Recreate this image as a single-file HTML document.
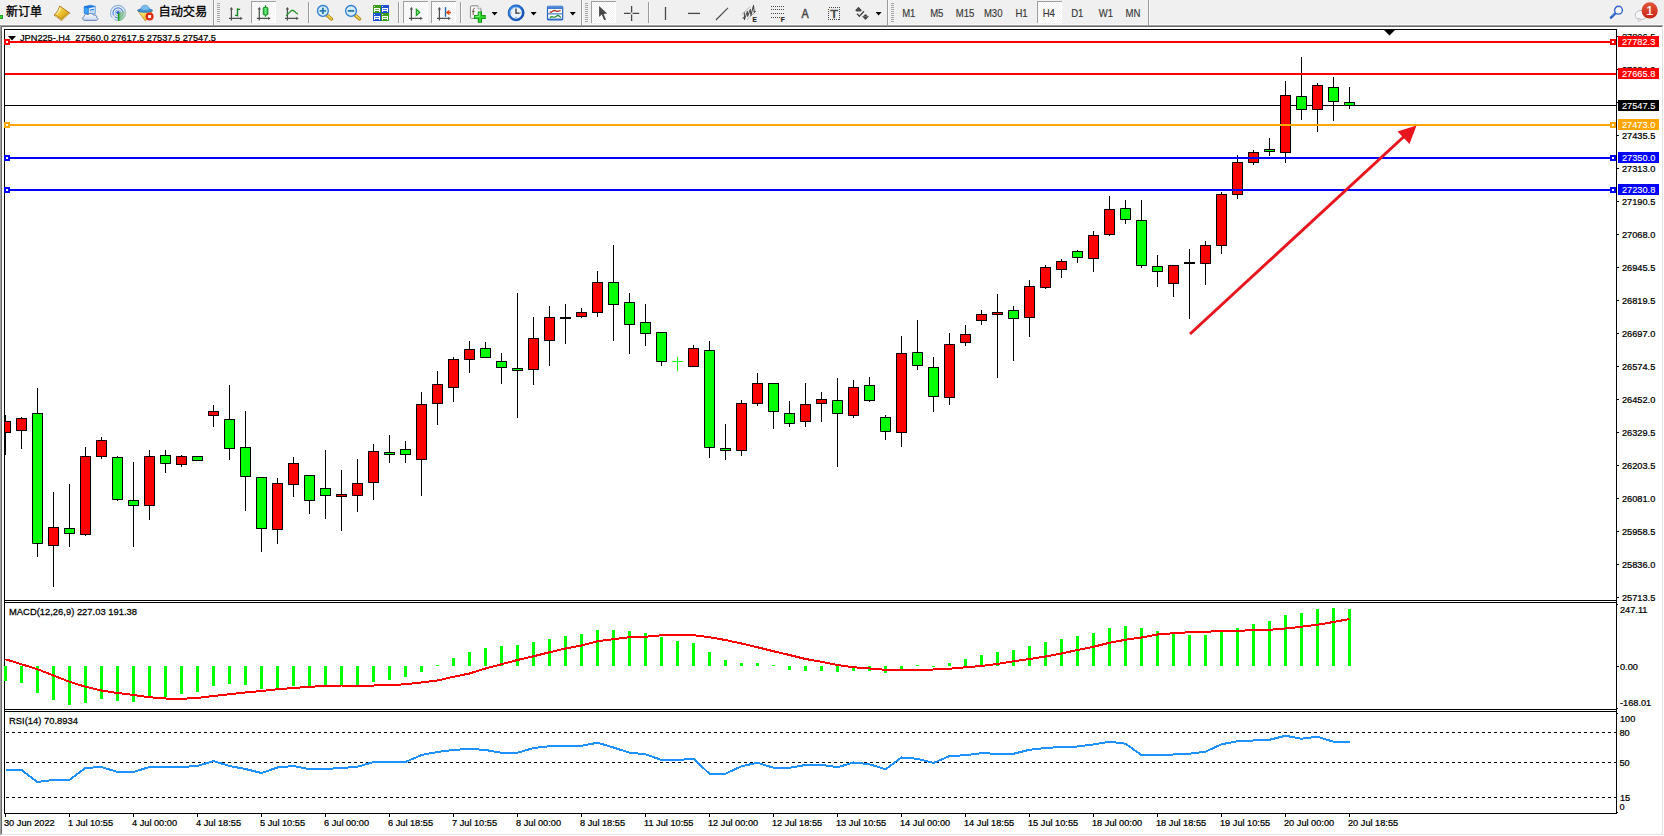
<!DOCTYPE html><html><head><meta charset="utf-8"><title>JPN225 H4</title><style>html,body{margin:0;padding:0;background:#fff}body{width:1664px;height:836px;overflow:hidden}svg{display:block;font-family:'Liberation Sans', 'Noto Sans CJK SC', sans-serif}</style></head><body>
<svg width="1664" height="836" viewBox="0 0 1664 836">
<rect x="0" y="0" width="1664" height="836" fill="#f0f0f0"/>
<g shape-rendering="crispEdges">
<rect x="2" y="27" width="1660" height="807" fill="#fff"/>
<rect x="4" y="29" width="1613" height="1" fill="#000"/>
<rect x="4" y="29" width="1" height="785" fill="#000"/>
<rect x="1616" y="29" width="1" height="785" fill="#000"/>
<rect x="4" y="600" width="1613" height="1" fill="#000"/>
<rect x="4" y="602" width="1613" height="1" fill="#000"/>
<rect x="4" y="709" width="1613" height="1" fill="#000"/>
<rect x="4" y="711" width="1613" height="1" fill="#000"/>
<rect x="4" y="813" width="1613" height="1" fill="#000"/>
<rect x="5" y="105" width="1611" height="1" fill="#000"/>
<rect x="5" y="415" width="1" height="40" fill="#000"/>
<rect x="5" y="421" width="6" height="12" fill="#000"/>
<rect x="5" y="422" width="5" height="10" fill="#ff0000"/>
<rect x="21" y="417" width="1" height="32" fill="#000"/>
<rect x="16" y="418" width="11" height="13" fill="#000"/>
<rect x="17" y="419" width="9" height="11" fill="#ff0000"/>
<rect x="37" y="388" width="1" height="169" fill="#000"/>
<rect x="32" y="413" width="11" height="131" fill="#000"/>
<rect x="33" y="414" width="9" height="129" fill="#00ff00"/>
<rect x="53" y="492" width="1" height="95" fill="#000"/>
<rect x="48" y="527" width="11" height="19" fill="#000"/>
<rect x="49" y="528" width="9" height="17" fill="#ff0000"/>
<rect x="69" y="484" width="1" height="63" fill="#000"/>
<rect x="64" y="528" width="11" height="6" fill="#000"/>
<rect x="65" y="529" width="9" height="4" fill="#00ff00"/>
<rect x="85" y="447" width="1" height="89" fill="#000"/>
<rect x="80" y="456" width="11" height="79" fill="#000"/>
<rect x="81" y="457" width="9" height="77" fill="#ff0000"/>
<rect x="101" y="437" width="1" height="22" fill="#000"/>
<rect x="96" y="440" width="11" height="17" fill="#000"/>
<rect x="97" y="441" width="9" height="15" fill="#ff0000"/>
<rect x="117" y="456" width="1" height="45" fill="#000"/>
<rect x="112" y="457" width="11" height="43" fill="#000"/>
<rect x="113" y="458" width="9" height="41" fill="#00ff00"/>
<rect x="133" y="462" width="1" height="85" fill="#000"/>
<rect x="128" y="500" width="11" height="6" fill="#000"/>
<rect x="129" y="501" width="9" height="4" fill="#00ff00"/>
<rect x="149" y="450" width="1" height="70" fill="#000"/>
<rect x="144" y="456" width="11" height="50" fill="#000"/>
<rect x="145" y="457" width="9" height="48" fill="#ff0000"/>
<rect x="165" y="450" width="1" height="23" fill="#000"/>
<rect x="160" y="455" width="11" height="9" fill="#000"/>
<rect x="161" y="456" width="9" height="7" fill="#00ff00"/>
<rect x="181" y="455" width="1" height="12" fill="#000"/>
<rect x="176" y="456" width="11" height="9" fill="#000"/>
<rect x="177" y="457" width="9" height="7" fill="#ff0000"/>
<rect x="197" y="456" width="1" height="5" fill="#000"/>
<rect x="192" y="456" width="11" height="5" fill="#000"/>
<rect x="193" y="457" width="9" height="3" fill="#00ff00"/>
<rect x="213" y="405" width="1" height="22" fill="#000"/>
<rect x="208" y="411" width="11" height="5" fill="#000"/>
<rect x="209" y="412" width="9" height="3" fill="#ff0000"/>
<rect x="229" y="385" width="1" height="75" fill="#000"/>
<rect x="224" y="419" width="11" height="30" fill="#000"/>
<rect x="225" y="420" width="9" height="28" fill="#00ff00"/>
<rect x="245" y="411" width="1" height="100" fill="#000"/>
<rect x="240" y="447" width="11" height="30" fill="#000"/>
<rect x="241" y="448" width="9" height="28" fill="#00ff00"/>
<rect x="261" y="477" width="1" height="75" fill="#000"/>
<rect x="256" y="477" width="11" height="52" fill="#000"/>
<rect x="257" y="478" width="9" height="50" fill="#00ff00"/>
<rect x="277" y="478" width="1" height="66" fill="#000"/>
<rect x="272" y="483" width="11" height="47" fill="#000"/>
<rect x="273" y="484" width="9" height="45" fill="#ff0000"/>
<rect x="293" y="457" width="1" height="40" fill="#000"/>
<rect x="288" y="463" width="11" height="22" fill="#000"/>
<rect x="289" y="464" width="9" height="20" fill="#ff0000"/>
<rect x="309" y="475" width="1" height="39" fill="#000"/>
<rect x="304" y="475" width="11" height="26" fill="#000"/>
<rect x="305" y="476" width="9" height="24" fill="#00ff00"/>
<rect x="325" y="450" width="1" height="69" fill="#000"/>
<rect x="320" y="488" width="11" height="8" fill="#000"/>
<rect x="321" y="489" width="9" height="6" fill="#00ff00"/>
<rect x="341" y="470" width="1" height="61" fill="#000"/>
<rect x="336" y="494" width="11" height="3" fill="#000"/>
<rect x="337" y="495" width="9" height="1" fill="#ff0000"/>
<rect x="357" y="459" width="1" height="53" fill="#000"/>
<rect x="352" y="483" width="11" height="13" fill="#000"/>
<rect x="353" y="484" width="9" height="11" fill="#ff0000"/>
<rect x="373" y="444" width="1" height="56" fill="#000"/>
<rect x="368" y="451" width="11" height="32" fill="#000"/>
<rect x="369" y="452" width="9" height="30" fill="#ff0000"/>
<rect x="389" y="435" width="1" height="28" fill="#000"/>
<rect x="384" y="452" width="11" height="3" fill="#000"/>
<rect x="385" y="453" width="9" height="1" fill="#00ff00"/>
<rect x="405" y="441" width="1" height="22" fill="#000"/>
<rect x="400" y="449" width="11" height="6" fill="#000"/>
<rect x="401" y="450" width="9" height="4" fill="#00ff00"/>
<rect x="421" y="392" width="1" height="104" fill="#000"/>
<rect x="416" y="404" width="11" height="56" fill="#000"/>
<rect x="417" y="405" width="9" height="54" fill="#ff0000"/>
<rect x="437" y="371" width="1" height="54" fill="#000"/>
<rect x="432" y="384" width="11" height="20" fill="#000"/>
<rect x="433" y="385" width="9" height="18" fill="#ff0000"/>
<rect x="453" y="357" width="1" height="45" fill="#000"/>
<rect x="448" y="359" width="11" height="29" fill="#000"/>
<rect x="449" y="360" width="9" height="27" fill="#ff0000"/>
<rect x="469" y="341" width="1" height="32" fill="#000"/>
<rect x="464" y="349" width="11" height="11" fill="#000"/>
<rect x="465" y="350" width="9" height="9" fill="#ff0000"/>
<rect x="485" y="342" width="1" height="16" fill="#000"/>
<rect x="480" y="348" width="11" height="10" fill="#000"/>
<rect x="481" y="349" width="9" height="8" fill="#00ff00"/>
<rect x="501" y="353" width="1" height="31" fill="#000"/>
<rect x="496" y="361" width="11" height="7" fill="#000"/>
<rect x="497" y="362" width="9" height="5" fill="#00ff00"/>
<rect x="517" y="293" width="1" height="125" fill="#000"/>
<rect x="512" y="368" width="11" height="3" fill="#000"/>
<rect x="513" y="369" width="9" height="1" fill="#00ff00"/>
<rect x="533" y="317" width="1" height="68" fill="#000"/>
<rect x="528" y="338" width="11" height="32" fill="#000"/>
<rect x="529" y="339" width="9" height="30" fill="#ff0000"/>
<rect x="549" y="306" width="1" height="60" fill="#000"/>
<rect x="544" y="317" width="11" height="24" fill="#000"/>
<rect x="545" y="318" width="9" height="22" fill="#ff0000"/>
<rect x="565" y="304" width="1" height="40" fill="#000"/>
<rect x="560" y="317" width="11" height="2" fill="#000"/>
<rect x="581" y="308" width="1" height="10" fill="#000"/>
<rect x="576" y="312" width="11" height="5" fill="#000"/>
<rect x="577" y="313" width="9" height="3" fill="#ff0000"/>
<rect x="597" y="271" width="1" height="46" fill="#000"/>
<rect x="592" y="282" width="11" height="31" fill="#000"/>
<rect x="593" y="283" width="9" height="29" fill="#ff0000"/>
<rect x="613" y="245" width="1" height="96" fill="#000"/>
<rect x="608" y="282" width="11" height="23" fill="#000"/>
<rect x="609" y="283" width="9" height="21" fill="#00ff00"/>
<rect x="629" y="293" width="1" height="61" fill="#000"/>
<rect x="624" y="302" width="11" height="23" fill="#000"/>
<rect x="625" y="303" width="9" height="21" fill="#00ff00"/>
<rect x="645" y="304" width="1" height="42" fill="#000"/>
<rect x="640" y="322" width="11" height="12" fill="#000"/>
<rect x="641" y="323" width="9" height="10" fill="#00ff00"/>
<rect x="661" y="332" width="1" height="34" fill="#000"/>
<rect x="656" y="332" width="11" height="30" fill="#000"/>
<rect x="657" y="333" width="9" height="28" fill="#00ff00"/>
<rect x="677" y="357" width="1" height="14" fill="#00ff00"/>
<rect x="672" y="361" width="11" height="1" fill="#00ff00"/>
<rect x="693" y="345" width="1" height="22" fill="#000"/>
<rect x="688" y="348" width="11" height="19" fill="#000"/>
<rect x="689" y="349" width="9" height="17" fill="#ff0000"/>
<rect x="709" y="341" width="1" height="117" fill="#000"/>
<rect x="704" y="350" width="11" height="98" fill="#000"/>
<rect x="705" y="351" width="9" height="96" fill="#00ff00"/>
<rect x="725" y="424" width="1" height="36" fill="#000"/>
<rect x="720" y="448" width="11" height="3" fill="#000"/>
<rect x="721" y="449" width="9" height="1" fill="#00ff00"/>
<rect x="741" y="400" width="1" height="56" fill="#000"/>
<rect x="736" y="403" width="11" height="48" fill="#000"/>
<rect x="737" y="404" width="9" height="46" fill="#ff0000"/>
<rect x="757" y="373" width="1" height="33" fill="#000"/>
<rect x="752" y="383" width="11" height="21" fill="#000"/>
<rect x="753" y="384" width="9" height="19" fill="#ff0000"/>
<rect x="773" y="383" width="1" height="46" fill="#000"/>
<rect x="768" y="383" width="11" height="29" fill="#000"/>
<rect x="769" y="384" width="9" height="27" fill="#00ff00"/>
<rect x="789" y="401" width="1" height="26" fill="#000"/>
<rect x="784" y="413" width="11" height="11" fill="#000"/>
<rect x="785" y="414" width="9" height="9" fill="#00ff00"/>
<rect x="805" y="383" width="1" height="44" fill="#000"/>
<rect x="800" y="404" width="11" height="18" fill="#000"/>
<rect x="801" y="405" width="9" height="16" fill="#ff0000"/>
<rect x="821" y="392" width="1" height="30" fill="#000"/>
<rect x="816" y="399" width="11" height="5" fill="#000"/>
<rect x="817" y="400" width="9" height="3" fill="#ff0000"/>
<rect x="837" y="378" width="1" height="89" fill="#000"/>
<rect x="832" y="400" width="11" height="14" fill="#000"/>
<rect x="833" y="401" width="9" height="12" fill="#00ff00"/>
<rect x="853" y="380" width="1" height="38" fill="#000"/>
<rect x="848" y="387" width="11" height="29" fill="#000"/>
<rect x="849" y="388" width="9" height="27" fill="#ff0000"/>
<rect x="869" y="377" width="1" height="25" fill="#000"/>
<rect x="864" y="385" width="11" height="16" fill="#000"/>
<rect x="865" y="386" width="9" height="14" fill="#00ff00"/>
<rect x="885" y="415" width="1" height="25" fill="#000"/>
<rect x="880" y="417" width="11" height="15" fill="#000"/>
<rect x="881" y="418" width="9" height="13" fill="#00ff00"/>
<rect x="901" y="336" width="1" height="111" fill="#000"/>
<rect x="896" y="353" width="11" height="80" fill="#000"/>
<rect x="897" y="354" width="9" height="78" fill="#ff0000"/>
<rect x="917" y="320" width="1" height="50" fill="#000"/>
<rect x="912" y="352" width="11" height="14" fill="#000"/>
<rect x="913" y="353" width="9" height="12" fill="#00ff00"/>
<rect x="933" y="357" width="1" height="55" fill="#000"/>
<rect x="928" y="367" width="11" height="30" fill="#000"/>
<rect x="929" y="368" width="9" height="28" fill="#00ff00"/>
<rect x="949" y="333" width="1" height="72" fill="#000"/>
<rect x="944" y="344" width="11" height="54" fill="#000"/>
<rect x="945" y="345" width="9" height="52" fill="#ff0000"/>
<rect x="965" y="325" width="1" height="21" fill="#000"/>
<rect x="960" y="334" width="11" height="9" fill="#000"/>
<rect x="961" y="335" width="9" height="7" fill="#ff0000"/>
<rect x="981" y="310" width="1" height="15" fill="#000"/>
<rect x="976" y="314" width="11" height="7" fill="#000"/>
<rect x="977" y="315" width="9" height="5" fill="#ff0000"/>
<rect x="997" y="294" width="1" height="84" fill="#000"/>
<rect x="992" y="312" width="11" height="3" fill="#000"/>
<rect x="993" y="313" width="9" height="1" fill="#ff0000"/>
<rect x="1013" y="306" width="1" height="55" fill="#000"/>
<rect x="1008" y="310" width="11" height="9" fill="#000"/>
<rect x="1009" y="311" width="9" height="7" fill="#00ff00"/>
<rect x="1029" y="280" width="1" height="57" fill="#000"/>
<rect x="1024" y="286" width="11" height="32" fill="#000"/>
<rect x="1025" y="287" width="9" height="30" fill="#ff0000"/>
<rect x="1045" y="265" width="1" height="24" fill="#000"/>
<rect x="1040" y="267" width="11" height="21" fill="#000"/>
<rect x="1041" y="268" width="9" height="19" fill="#ff0000"/>
<rect x="1061" y="259" width="1" height="19" fill="#000"/>
<rect x="1056" y="261" width="11" height="9" fill="#000"/>
<rect x="1057" y="262" width="9" height="7" fill="#ff0000"/>
<rect x="1077" y="250" width="1" height="13" fill="#000"/>
<rect x="1072" y="251" width="11" height="7" fill="#000"/>
<rect x="1073" y="252" width="9" height="5" fill="#00ff00"/>
<rect x="1093" y="231" width="1" height="41" fill="#000"/>
<rect x="1088" y="235" width="11" height="24" fill="#000"/>
<rect x="1089" y="236" width="9" height="22" fill="#ff0000"/>
<rect x="1109" y="196" width="1" height="40" fill="#000"/>
<rect x="1104" y="209" width="11" height="26" fill="#000"/>
<rect x="1105" y="210" width="9" height="24" fill="#ff0000"/>
<rect x="1125" y="200" width="1" height="24" fill="#000"/>
<rect x="1120" y="208" width="11" height="12" fill="#000"/>
<rect x="1121" y="209" width="9" height="10" fill="#00ff00"/>
<rect x="1141" y="200" width="1" height="68" fill="#000"/>
<rect x="1136" y="220" width="11" height="46" fill="#000"/>
<rect x="1137" y="221" width="9" height="44" fill="#00ff00"/>
<rect x="1157" y="255" width="1" height="32" fill="#000"/>
<rect x="1152" y="266" width="11" height="6" fill="#000"/>
<rect x="1153" y="267" width="9" height="4" fill="#00ff00"/>
<rect x="1173" y="265" width="1" height="32" fill="#000"/>
<rect x="1168" y="265" width="11" height="19" fill="#000"/>
<rect x="1169" y="266" width="9" height="17" fill="#ff0000"/>
<rect x="1189" y="249" width="1" height="70" fill="#000"/>
<rect x="1184" y="262" width="11" height="2" fill="#000"/>
<rect x="1205" y="241" width="1" height="44" fill="#000"/>
<rect x="1200" y="245" width="11" height="19" fill="#000"/>
<rect x="1201" y="246" width="9" height="17" fill="#ff0000"/>
<rect x="1221" y="192" width="1" height="62" fill="#000"/>
<rect x="1216" y="194" width="11" height="52" fill="#000"/>
<rect x="1217" y="195" width="9" height="50" fill="#ff0000"/>
<rect x="1237" y="155" width="1" height="44" fill="#000"/>
<rect x="1232" y="162" width="11" height="33" fill="#000"/>
<rect x="1233" y="163" width="9" height="31" fill="#ff0000"/>
<rect x="1253" y="150" width="1" height="15" fill="#000"/>
<rect x="1248" y="152" width="11" height="11" fill="#000"/>
<rect x="1249" y="153" width="9" height="9" fill="#ff0000"/>
<rect x="1269" y="138" width="1" height="18" fill="#000"/>
<rect x="1264" y="149" width="11" height="3" fill="#000"/>
<rect x="1265" y="150" width="9" height="1" fill="#00ff00"/>
<rect x="1285" y="81" width="1" height="82" fill="#000"/>
<rect x="1280" y="95" width="11" height="58" fill="#000"/>
<rect x="1281" y="96" width="9" height="56" fill="#ff0000"/>
<rect x="1301" y="57" width="1" height="63" fill="#000"/>
<rect x="1296" y="96" width="11" height="14" fill="#000"/>
<rect x="1297" y="97" width="9" height="12" fill="#00ff00"/>
<rect x="1317" y="83" width="1" height="49" fill="#000"/>
<rect x="1312" y="85" width="11" height="25" fill="#000"/>
<rect x="1313" y="86" width="9" height="23" fill="#ff0000"/>
<rect x="1333" y="77" width="1" height="44" fill="#000"/>
<rect x="1328" y="87" width="11" height="15" fill="#000"/>
<rect x="1329" y="88" width="9" height="13" fill="#00ff00"/>
<rect x="1349" y="87" width="1" height="22" fill="#000"/>
<rect x="1344" y="102" width="11" height="4" fill="#000"/>
<rect x="1345" y="103" width="9" height="2" fill="#00ff00"/>
</g>
<text transform="translate(20,41) scale(0.94,1)" font-size="9.8" fill="#000" stroke="#000" stroke-width="0.25" text-anchor="start">JPN225-,H4&#160;&#160;27560.0 27617.5 27537.5 27547.5</text>
<g shape-rendering="crispEdges">
<rect x="5" y="41" width="1611" height="2" fill="#ff0000"/>
<rect x="4" y="39" width="6" height="6" fill="#ff0000"/>
<rect x="6" y="41" width="2" height="2" fill="#fff"/>
<rect x="1610" y="39" width="6" height="6" fill="#ff0000"/>
<rect x="1612" y="41" width="2" height="2" fill="#fff"/>
<rect x="5" y="73" width="1611" height="2" fill="#ff0000"/>
<rect x="5" y="124" width="1611" height="2" fill="#ffa500"/>
<rect x="4" y="122" width="6" height="6" fill="#ffa500"/>
<rect x="6" y="124" width="2" height="2" fill="#fff"/>
<rect x="1610" y="122" width="6" height="6" fill="#ffa500"/>
<rect x="1612" y="124" width="2" height="2" fill="#fff"/>
<rect x="5" y="157" width="1611" height="2" fill="#0000ff"/>
<rect x="4" y="155" width="6" height="6" fill="#0000ff"/>
<rect x="6" y="157" width="2" height="2" fill="#fff"/>
<rect x="1610" y="155" width="6" height="6" fill="#0000ff"/>
<rect x="1612" y="157" width="2" height="2" fill="#fff"/>
<rect x="5" y="189" width="1611" height="2" fill="#0000ff"/>
<rect x="4" y="187" width="6" height="6" fill="#0000ff"/>
<rect x="6" y="189" width="2" height="2" fill="#fff"/>
<rect x="1610" y="187" width="6" height="6" fill="#0000ff"/>
<rect x="1612" y="189" width="2" height="2" fill="#fff"/>
<polygon points="1384,30 1395,30 1389.5,35.5" fill="#000" shape-rendering="auto"/>
<rect x="4" y="666" width="3" height="15" fill="#00ff00"/>
<rect x="20" y="666" width="3" height="17" fill="#00ff00"/>
<rect x="36" y="666" width="3" height="27" fill="#00ff00"/>
<rect x="52" y="666" width="3" height="34" fill="#00ff00"/>
<rect x="68" y="666" width="3" height="39" fill="#00ff00"/>
<rect x="84" y="666" width="3" height="37" fill="#00ff00"/>
<rect x="100" y="666" width="3" height="33" fill="#00ff00"/>
<rect x="116" y="666" width="3" height="35" fill="#00ff00"/>
<rect x="132" y="666" width="3" height="36" fill="#00ff00"/>
<rect x="148" y="666" width="3" height="32" fill="#00ff00"/>
<rect x="164" y="666" width="3" height="31" fill="#00ff00"/>
<rect x="180" y="666" width="3" height="28" fill="#00ff00"/>
<rect x="196" y="666" width="3" height="26" fill="#00ff00"/>
<rect x="212" y="666" width="3" height="20" fill="#00ff00"/>
<rect x="228" y="666" width="3" height="18" fill="#00ff00"/>
<rect x="244" y="666" width="3" height="19" fill="#00ff00"/>
<rect x="260" y="666" width="3" height="23" fill="#00ff00"/>
<rect x="276" y="666" width="3" height="23" fill="#00ff00"/>
<rect x="292" y="666" width="3" height="20" fill="#00ff00"/>
<rect x="308" y="666" width="3" height="21" fill="#00ff00"/>
<rect x="324" y="666" width="3" height="21" fill="#00ff00"/>
<rect x="340" y="666" width="3" height="20" fill="#00ff00"/>
<rect x="356" y="666" width="3" height="19" fill="#00ff00"/>
<rect x="372" y="666" width="3" height="16" fill="#00ff00"/>
<rect x="388" y="666" width="3" height="14" fill="#00ff00"/>
<rect x="404" y="666" width="3" height="11" fill="#00ff00"/>
<rect x="420" y="666" width="3" height="6" fill="#00ff00"/>
<rect x="436" y="665" width="3" height="1" fill="#00ff00"/>
<rect x="452" y="658" width="3" height="8" fill="#00ff00"/>
<rect x="468" y="652" width="3" height="14" fill="#00ff00"/>
<rect x="484" y="648" width="3" height="18" fill="#00ff00"/>
<rect x="500" y="646" width="3" height="20" fill="#00ff00"/>
<rect x="516" y="645" width="3" height="21" fill="#00ff00"/>
<rect x="532" y="642" width="3" height="24" fill="#00ff00"/>
<rect x="548" y="639" width="3" height="27" fill="#00ff00"/>
<rect x="564" y="636" width="3" height="30" fill="#00ff00"/>
<rect x="580" y="634" width="3" height="32" fill="#00ff00"/>
<rect x="596" y="630" width="3" height="36" fill="#00ff00"/>
<rect x="612" y="630" width="3" height="36" fill="#00ff00"/>
<rect x="628" y="631" width="3" height="35" fill="#00ff00"/>
<rect x="644" y="633" width="3" height="33" fill="#00ff00"/>
<rect x="660" y="637" width="3" height="29" fill="#00ff00"/>
<rect x="676" y="641" width="3" height="25" fill="#00ff00"/>
<rect x="692" y="643" width="3" height="23" fill="#00ff00"/>
<rect x="708" y="652" width="3" height="14" fill="#00ff00"/>
<rect x="724" y="660" width="3" height="6" fill="#00ff00"/>
<rect x="740" y="663" width="3" height="3" fill="#00ff00"/>
<rect x="756" y="663" width="3" height="3" fill="#00ff00"/>
<rect x="772" y="665" width="3" height="1" fill="#00ff00"/>
<rect x="788" y="666" width="3" height="4" fill="#00ff00"/>
<rect x="804" y="666" width="3" height="5" fill="#00ff00"/>
<rect x="820" y="666" width="3" height="5" fill="#00ff00"/>
<rect x="836" y="666" width="3" height="6" fill="#00ff00"/>
<rect x="852" y="666" width="3" height="5" fill="#00ff00"/>
<rect x="868" y="666" width="3" height="5" fill="#00ff00"/>
<rect x="884" y="666" width="3" height="7" fill="#00ff00"/>
<rect x="900" y="666" width="3" height="3" fill="#00ff00"/>
<rect x="916" y="665" width="3" height="1" fill="#00ff00"/>
<rect x="932" y="666" width="3" height="1" fill="#00ff00"/>
<rect x="948" y="663" width="3" height="3" fill="#00ff00"/>
<rect x="964" y="659" width="3" height="7" fill="#00ff00"/>
<rect x="980" y="655" width="3" height="11" fill="#00ff00"/>
<rect x="996" y="652" width="3" height="14" fill="#00ff00"/>
<rect x="1012" y="650" width="3" height="16" fill="#00ff00"/>
<rect x="1028" y="646" width="3" height="20" fill="#00ff00"/>
<rect x="1044" y="642" width="3" height="24" fill="#00ff00"/>
<rect x="1060" y="639" width="3" height="27" fill="#00ff00"/>
<rect x="1076" y="636" width="3" height="30" fill="#00ff00"/>
<rect x="1092" y="633" width="3" height="33" fill="#00ff00"/>
<rect x="1108" y="628" width="3" height="38" fill="#00ff00"/>
<rect x="1124" y="626" width="3" height="40" fill="#00ff00"/>
<rect x="1140" y="628" width="3" height="38" fill="#00ff00"/>
<rect x="1156" y="631" width="3" height="35" fill="#00ff00"/>
<rect x="1172" y="633" width="3" height="33" fill="#00ff00"/>
<rect x="1188" y="635" width="3" height="31" fill="#00ff00"/>
<rect x="1204" y="635" width="3" height="31" fill="#00ff00"/>
<rect x="1220" y="632" width="3" height="34" fill="#00ff00"/>
<rect x="1236" y="628" width="3" height="38" fill="#00ff00"/>
<rect x="1252" y="624" width="3" height="42" fill="#00ff00"/>
<rect x="1268" y="621" width="3" height="45" fill="#00ff00"/>
<rect x="1284" y="615" width="3" height="51" fill="#00ff00"/>
<rect x="1300" y="613" width="3" height="53" fill="#00ff00"/>
<rect x="1316" y="609" width="3" height="57" fill="#00ff00"/>
<rect x="1332" y="608" width="3" height="58" fill="#00ff00"/>
<rect x="1348" y="609" width="3" height="57" fill="#00ff00"/>
<line x1="6" y1="732.5" x2="1616" y2="732.5" stroke="#000" stroke-width="1" stroke-dasharray="3,3"/>
<line x1="6" y1="762.5" x2="1616" y2="762.5" stroke="#000" stroke-width="1" stroke-dasharray="3,3"/>
<line x1="6" y1="797.5" x2="1616" y2="797.5" stroke="#000" stroke-width="1" stroke-dasharray="3,3"/>
<rect x="1617" y="36" width="2" height="1" fill="#000"/>
<rect x="1617" y="69" width="2" height="1" fill="#000"/>
<rect x="1617" y="102" width="2" height="1" fill="#000"/>
<rect x="1617" y="135" width="2" height="1" fill="#000"/>
<rect x="1617" y="168" width="2" height="1" fill="#000"/>
<rect x="1617" y="201" width="2" height="1" fill="#000"/>
<rect x="1617" y="234" width="2" height="1" fill="#000"/>
<rect x="1617" y="267" width="2" height="1" fill="#000"/>
<rect x="1617" y="300" width="2" height="1" fill="#000"/>
<rect x="1617" y="333" width="2" height="1" fill="#000"/>
<rect x="1617" y="366" width="2" height="1" fill="#000"/>
<rect x="1617" y="399" width="2" height="1" fill="#000"/>
<rect x="1617" y="432" width="2" height="1" fill="#000"/>
<rect x="1617" y="465" width="2" height="1" fill="#000"/>
<rect x="1617" y="498" width="2" height="1" fill="#000"/>
<rect x="1617" y="531" width="2" height="1" fill="#000"/>
<rect x="1617" y="564" width="2" height="1" fill="#000"/>
<rect x="1617" y="597" width="2" height="1" fill="#000"/>
<rect x="1617" y="666" width="2" height="1" fill="#000"/>
<rect x="1617" y="604" width="1" height="1" fill="#000"/>
<rect x="1617" y="708" width="1" height="1" fill="#000"/>
<rect x="1617" y="713" width="1" height="1" fill="#000"/>
<rect x="1617" y="812" width="1" height="1" fill="#000"/>
<rect x="5" y="814" width="1" height="3" fill="#000"/>
<rect x="69" y="814" width="1" height="3" fill="#000"/>
<rect x="133" y="814" width="1" height="3" fill="#000"/>
<rect x="197" y="814" width="1" height="3" fill="#000"/>
<rect x="261" y="814" width="1" height="3" fill="#000"/>
<rect x="325" y="814" width="1" height="3" fill="#000"/>
<rect x="389" y="814" width="1" height="3" fill="#000"/>
<rect x="453" y="814" width="1" height="3" fill="#000"/>
<rect x="517" y="814" width="1" height="3" fill="#000"/>
<rect x="581" y="814" width="1" height="3" fill="#000"/>
<rect x="645" y="814" width="1" height="3" fill="#000"/>
<rect x="709" y="814" width="1" height="3" fill="#000"/>
<rect x="773" y="814" width="1" height="3" fill="#000"/>
<rect x="837" y="814" width="1" height="3" fill="#000"/>
<rect x="901" y="814" width="1" height="3" fill="#000"/>
<rect x="965" y="814" width="1" height="3" fill="#000"/>
<rect x="1029" y="814" width="1" height="3" fill="#000"/>
<rect x="1093" y="814" width="1" height="3" fill="#000"/>
<rect x="1157" y="814" width="1" height="3" fill="#000"/>
<rect x="1221" y="814" width="1" height="3" fill="#000"/>
<rect x="1285" y="814" width="1" height="3" fill="#000"/>
<rect x="1349" y="814" width="1" height="3" fill="#000"/>
</g>
<polyline points="5.5,659.25 21.5,664.25 37.5,669.25 53.5,675.5 69.5,681.75 85.5,686.75 101.5,690.5 117.5,693 133.5,695 149.5,697.25 165.5,698.5 181.5,698.75 197.5,698 213.5,696 229.5,694.25 245.5,692.5 261.5,691 277.5,689.25 293.5,688 309.5,686.75 325.5,686 341.5,685.5 357.5,685.5 373.5,685.5 389.5,685.25 405.5,684.25 421.5,682.5 437.5,680.5 453.5,676.75 469.5,673.5 485.5,668.5 501.5,664.25 517.5,660 533.5,656.25 549.5,652.25 565.5,648.5 581.5,645.5 597.5,641.25 613.5,639.25 629.5,637.25 645.5,636.75 661.5,635.25 677.5,635 693.5,635.25 709.5,637.25 725.5,640 741.5,643.5 757.5,647.25 773.5,651.25 789.5,655 805.5,659 821.5,661.75 837.5,665 853.5,667.25 869.5,668.5 885.5,669.75 901.5,669.75 917.5,669.75 933.5,669.5 949.5,668.75 965.5,667.25 981.5,666 997.5,664 1013.5,661.25 1029.5,659 1045.5,656.5 1061.5,653.5 1077.5,650 1093.5,646.75 1109.5,642.75 1125.5,639.75 1141.5,637.5 1157.5,634.5 1173.5,633.25 1189.5,632.25 1205.5,631.75 1221.5,631 1237.5,630.75 1253.5,630.25 1269.5,629.75 1285.5,628.5 1301.5,626.75 1317.5,624.75 1333.5,622 1349.5,619" fill="none" stroke="#ff0000" stroke-width="2" stroke-linejoin="round" shape-rendering="crispEdges"/>
<polyline points="5.5,770 21.5,770 37.5,782 53.5,780 69.5,780 85.5,768 101.5,767 117.5,772 133.5,772 149.5,767 165.5,767 181.5,767 197.5,766 213.5,761 229.5,766 245.5,769 261.5,773 277.5,767.5 293.5,766 309.5,769.25 325.5,769 341.5,768 357.5,766.75 373.5,762 389.5,762 405.5,762 421.5,755 437.5,752 453.5,750 469.5,748.75 485.5,750 501.5,752.75 517.5,752.75 533.5,748 549.5,746.25 565.5,746 581.5,745.75 597.5,742.75 613.5,747.5 629.5,752.75 645.5,754.25 661.5,760 677.5,760 693.5,758.75 709.5,773.75 725.5,773.75 741.5,766.25 757.5,762.75 773.5,767.75 789.5,767.75 805.5,765 821.5,764.75 837.5,767.25 853.5,762.5 869.5,764.25 885.5,769.25 901.5,757.5 917.5,758.75 933.5,763 949.5,756 965.5,755.25 981.5,753.25 997.5,753.75 1013.5,753.75 1029.5,749.75 1045.5,748 1061.5,747 1077.5,746.5 1093.5,744.5 1109.5,741.75 1125.5,743.75 1141.5,755 1157.5,755 1173.5,754.5 1189.5,753.75 1205.5,751.75 1221.5,744.25 1237.5,741.25 1253.5,740.5 1269.5,739.75 1285.5,735.75 1301.5,738.75 1317.5,736.75 1333.5,741.75 1349.5,741.75" fill="none" stroke="#1e90ff" stroke-width="2" stroke-linejoin="round" shape-rendering="crispEdges"/>
<line x1="1190" y1="334" x2="1404" y2="136.5" stroke="#e8151f" stroke-width="3"/>
<polygon points="1416.5,125.5 1397.5,131.5 1409.5,144" fill="#e8151f"/>
<text transform="translate(1622,40) scale(0.94,1)" font-size="9.8" fill="#000" stroke="#000" stroke-width="0.25" text-anchor="start">27806.5</text>
<text transform="translate(1622,73) scale(0.94,1)" font-size="9.8" fill="#000" stroke="#000" stroke-width="0.25" text-anchor="start">27684.0</text>
<text transform="translate(1622,106) scale(0.94,1)" font-size="9.8" fill="#000" stroke="#000" stroke-width="0.25" text-anchor="start">27561.5</text>
<text transform="translate(1622,139) scale(0.94,1)" font-size="9.8" fill="#000" stroke="#000" stroke-width="0.25" text-anchor="start">27435.5</text>
<text transform="translate(1622,172) scale(0.94,1)" font-size="9.8" fill="#000" stroke="#000" stroke-width="0.25" text-anchor="start">27313.0</text>
<text transform="translate(1622,205) scale(0.94,1)" font-size="9.8" fill="#000" stroke="#000" stroke-width="0.25" text-anchor="start">27190.5</text>
<text transform="translate(1622,238) scale(0.94,1)" font-size="9.8" fill="#000" stroke="#000" stroke-width="0.25" text-anchor="start">27068.0</text>
<text transform="translate(1622,271) scale(0.94,1)" font-size="9.8" fill="#000" stroke="#000" stroke-width="0.25" text-anchor="start">26945.5</text>
<text transform="translate(1622,304) scale(0.94,1)" font-size="9.8" fill="#000" stroke="#000" stroke-width="0.25" text-anchor="start">26819.5</text>
<text transform="translate(1622,337) scale(0.94,1)" font-size="9.8" fill="#000" stroke="#000" stroke-width="0.25" text-anchor="start">26697.0</text>
<text transform="translate(1622,370) scale(0.94,1)" font-size="9.8" fill="#000" stroke="#000" stroke-width="0.25" text-anchor="start">26574.5</text>
<text transform="translate(1622,403) scale(0.94,1)" font-size="9.8" fill="#000" stroke="#000" stroke-width="0.25" text-anchor="start">26452.0</text>
<text transform="translate(1622,436) scale(0.94,1)" font-size="9.8" fill="#000" stroke="#000" stroke-width="0.25" text-anchor="start">26329.5</text>
<text transform="translate(1622,469) scale(0.94,1)" font-size="9.8" fill="#000" stroke="#000" stroke-width="0.25" text-anchor="start">26203.5</text>
<text transform="translate(1622,502) scale(0.94,1)" font-size="9.8" fill="#000" stroke="#000" stroke-width="0.25" text-anchor="start">26081.0</text>
<text transform="translate(1622,535) scale(0.94,1)" font-size="9.8" fill="#000" stroke="#000" stroke-width="0.25" text-anchor="start">25958.5</text>
<text transform="translate(1622,568) scale(0.94,1)" font-size="9.8" fill="#000" stroke="#000" stroke-width="0.25" text-anchor="start">25836.0</text>
<text transform="translate(1622,601) scale(0.94,1)" font-size="9.8" fill="#000" stroke="#000" stroke-width="0.25" text-anchor="start">25713.5</text>
<g shape-rendering="crispEdges">
<rect x="1618" y="36" width="41" height="11" fill="#ff0000"/>
<rect x="1618" y="68" width="41" height="11" fill="#ff0000"/>
<rect x="1618" y="100" width="41" height="11" fill="#000"/>
<rect x="1618" y="119" width="41" height="11" fill="#ffa500"/>
<rect x="1618" y="152" width="41" height="11" fill="#0000ff"/>
<rect x="1618" y="184" width="41" height="11" fill="#0000ff"/>
</g>
<text transform="translate(1622,45) scale(0.94,1)" font-size="9.8" fill="#fff" stroke="#fff" stroke-width="0.1" text-anchor="start">27782.3</text>
<text transform="translate(1622,77) scale(0.94,1)" font-size="9.8" fill="#fff" stroke="#fff" stroke-width="0.1" text-anchor="start">27665.8</text>
<text transform="translate(1622,109) scale(0.94,1)" font-size="9.8" fill="#fff" stroke="#fff" stroke-width="0.1" text-anchor="start">27547.5</text>
<text transform="translate(1622,128) scale(0.94,1)" font-size="9.8" fill="#fff" stroke="#fff" stroke-width="0.1" text-anchor="start">27473.0</text>
<text transform="translate(1622,161) scale(0.94,1)" font-size="9.8" fill="#fff" stroke="#fff" stroke-width="0.1" text-anchor="start">27350.0</text>
<text transform="translate(1622,193) scale(0.94,1)" font-size="9.8" fill="#fff" stroke="#fff" stroke-width="0.1" text-anchor="start">27230.8</text>
<text transform="translate(1620,613) scale(0.94,1)" font-size="9.8" fill="#000" stroke="#000" stroke-width="0.25" text-anchor="start">247.11</text>
<text transform="translate(1620,670) scale(0.94,1)" font-size="9.8" fill="#000" stroke="#000" stroke-width="0.25" text-anchor="start">0.00</text>
<text transform="translate(1620,706) scale(0.94,1)" font-size="9.8" fill="#000" stroke="#000" stroke-width="0.25" text-anchor="start">-168.01</text>
<text transform="translate(1620,722) scale(0.94,1)" font-size="9.8" fill="#000" stroke="#000" stroke-width="0.25" text-anchor="start">100</text>
<text transform="translate(1619.5,736) scale(0.94,1)" font-size="9.8" fill="#000" stroke="#000" stroke-width="0.25" text-anchor="start">80</text>
<text transform="translate(1619.5,766) scale(0.94,1)" font-size="9.8" fill="#000" stroke="#000" stroke-width="0.25" text-anchor="start">50</text>
<text transform="translate(1620,801) scale(0.94,1)" font-size="9.8" fill="#000" stroke="#000" stroke-width="0.25" text-anchor="start">15</text>
<text transform="translate(1619.5,810) scale(0.94,1)" font-size="9.8" fill="#000" stroke="#000" stroke-width="0.25" text-anchor="start">0</text>
<polygon points="8,36 16,36 12,40.5" fill="#000"/>
<text transform="translate(9,615) scale(0.96,1)" font-size="9.8" fill="#000" stroke="#000" stroke-width="0.25" text-anchor="start">MACD(12,26,9) 227.03 191.38</text>
<text transform="translate(9,724) scale(0.96,1)" font-size="9.8" fill="#000" stroke="#000" stroke-width="0.25" text-anchor="start">RSI(14) 70.8934</text>
<text transform="translate(4,826) scale(0.94,1)" font-size="9.8" fill="#000" stroke="#000" stroke-width="0.25" text-anchor="start">30 Jun 2022</text>
<text transform="translate(68,826) scale(0.94,1)" font-size="9.8" fill="#000" stroke="#000" stroke-width="0.25" text-anchor="start">1 Jul 10:55</text>
<text transform="translate(132,826) scale(0.94,1)" font-size="9.8" fill="#000" stroke="#000" stroke-width="0.25" text-anchor="start">4 Jul 00:00</text>
<text transform="translate(196,826) scale(0.94,1)" font-size="9.8" fill="#000" stroke="#000" stroke-width="0.25" text-anchor="start">4 Jul 18:55</text>
<text transform="translate(260,826) scale(0.94,1)" font-size="9.8" fill="#000" stroke="#000" stroke-width="0.25" text-anchor="start">5 Jul 10:55</text>
<text transform="translate(324,826) scale(0.94,1)" font-size="9.8" fill="#000" stroke="#000" stroke-width="0.25" text-anchor="start">6 Jul 00:00</text>
<text transform="translate(388,826) scale(0.94,1)" font-size="9.8" fill="#000" stroke="#000" stroke-width="0.25" text-anchor="start">6 Jul 18:55</text>
<text transform="translate(452,826) scale(0.94,1)" font-size="9.8" fill="#000" stroke="#000" stroke-width="0.25" text-anchor="start">7 Jul 10:55</text>
<text transform="translate(516,826) scale(0.94,1)" font-size="9.8" fill="#000" stroke="#000" stroke-width="0.25" text-anchor="start">8 Jul 00:00</text>
<text transform="translate(580,826) scale(0.94,1)" font-size="9.8" fill="#000" stroke="#000" stroke-width="0.25" text-anchor="start">8 Jul 18:55</text>
<text transform="translate(644,826) scale(0.94,1)" font-size="9.8" fill="#000" stroke="#000" stroke-width="0.25" text-anchor="start">11 Jul 10:55</text>
<text transform="translate(708,826) scale(0.94,1)" font-size="9.8" fill="#000" stroke="#000" stroke-width="0.25" text-anchor="start">12 Jul 00:00</text>
<text transform="translate(772,826) scale(0.94,1)" font-size="9.8" fill="#000" stroke="#000" stroke-width="0.25" text-anchor="start">12 Jul 18:55</text>
<text transform="translate(836,826) scale(0.94,1)" font-size="9.8" fill="#000" stroke="#000" stroke-width="0.25" text-anchor="start">13 Jul 10:55</text>
<text transform="translate(900,826) scale(0.94,1)" font-size="9.8" fill="#000" stroke="#000" stroke-width="0.25" text-anchor="start">14 Jul 00:00</text>
<text transform="translate(964,826) scale(0.94,1)" font-size="9.8" fill="#000" stroke="#000" stroke-width="0.25" text-anchor="start">14 Jul 18:55</text>
<text transform="translate(1028,826) scale(0.94,1)" font-size="9.8" fill="#000" stroke="#000" stroke-width="0.25" text-anchor="start">15 Jul 10:55</text>
<text transform="translate(1092,826) scale(0.94,1)" font-size="9.8" fill="#000" stroke="#000" stroke-width="0.25" text-anchor="start">18 Jul 00:00</text>
<text transform="translate(1156,826) scale(0.94,1)" font-size="9.8" fill="#000" stroke="#000" stroke-width="0.25" text-anchor="start">18 Jul 18:55</text>
<text transform="translate(1220,826) scale(0.94,1)" font-size="9.8" fill="#000" stroke="#000" stroke-width="0.25" text-anchor="start">19 Jul 10:55</text>
<text transform="translate(1284,826) scale(0.94,1)" font-size="9.8" fill="#000" stroke="#000" stroke-width="0.25" text-anchor="start">20 Jul 00:00</text>
<text transform="translate(1348,826) scale(0.94,1)" font-size="9.8" fill="#000" stroke="#000" stroke-width="0.25" text-anchor="start">20 Jul 18:55</text>
<defs><pattern id="chk" width="2" height="2" patternUnits="userSpaceOnUse"><rect width="2" height="2" fill="#f2f2f2"/><rect width="1" height="1" fill="#fff"/><rect x="1" y="1" width="1" height="1" fill="#fff"/></pattern><linearGradient id="gold" x1="0" y1="0" x2="1" y2="1"><stop offset="0" stop-color="#fff3a8"/><stop offset=".45" stop-color="#f0c432"/><stop offset="1" stop-color="#c88e14"/></linearGradient><linearGradient id="cld" x1="0" y1="0" x2="0" y2="1"><stop offset="0" stop-color="#ffffff"/><stop offset="1" stop-color="#c4d4ec"/></linearGradient><linearGradient id="yel" x1="0" y1="0" x2="1" y2="1"><stop offset="0" stop-color="#fff08a"/><stop offset="1" stop-color="#e2a818"/></linearGradient><linearGradient id="bd" x1="0" y1="0" x2="0" y2="1"><stop offset="0" stop-color="#e4563c"/><stop offset="1" stop-color="#c62514"/></linearGradient><linearGradient id="cnd" x1="0" y1="0" x2="1" y2="0"><stop offset="0" stop-color="#18b030"/><stop offset=".5" stop-color="#70f080"/><stop offset="1" stop-color="#18b030"/></linearGradient><linearGradient id="wdg" x1="0" y1="0" x2="1" y2="0"><stop offset="0" stop-color="#5cb45c" stop-opacity=".8"/><stop offset="1" stop-color="#b4d8b4" stop-opacity=".65"/></linearGradient><linearGradient id="tb" x1="0" y1="0" x2="0" y2="1"><stop offset="0" stop-color="#6aa4ea"/><stop offset="1" stop-color="#2a62c0"/></linearGradient><linearGradient id="clk" x1="0" y1="0" x2="1" y2="1"><stop offset="0" stop-color="#3a8cf0"/><stop offset="1" stop-color="#0a48b0"/></linearGradient></defs>
<g shape-rendering="crispEdges">
<rect x="0" y="24" width="1664" height="1" fill="#f8f8f8"/>
<rect x="0" y="25" width="1663" height="1" fill="#a0a0a0"/>
<rect x="1" y="26" width="1661" height="1" fill="#696969"/>
<rect x="0" y="25" width="1" height="811" fill="#a0a0a0"/>
<rect x="1" y="26" width="1" height="809" fill="#696969"/>
<rect x="1662" y="27" width="1" height="808" fill="#e3e3e3"/>
<rect x="1663" y="25" width="1" height="811" fill="#ffffff"/>
<rect x="1" y="834" width="1662" height="1" fill="#e3e3e3"/>
<rect x="0" y="835" width="1664" height="1" fill="#ffffff"/>
</g>
<rect x="0" y="15" width="3" height="4" fill="#1f9a1f" shape-rendering="crispEdges"/><rect x="0" y="16" width="2" height="2" fill="#36d836" shape-rendering="crispEdges"/>
<text transform="translate(6,16) scale(1,1)" font-size="12" fill="#000" stroke="#000" stroke-width="0.3" text-anchor="start">新订单</text>
<g><path d="M59.7 5.5L70.3 13.1L61.6 21.1L53.7 15.3Q57.8 11.4 59.7 5.5Z" fill="#a06e12"/><path d="M55.2 15.2L61.5 19.8L69 13L69.2 14.2L61.6 20.4L55 16Z" fill="#f2dc9a"/><path d="M59.9 6.6L69 13L61.4 19.2L55 14.8Q58.6 11 59.9 6.6Z" fill="url(#gold)"/><path d="M60.4 8.2Q59.4 11.6 56.6 14.6" stroke="#fff4b0" stroke-width="1.1" fill="none" opacity=".9"/><path d="M56 15L61.4 18.8L68.4 13" stroke="#c48c14" stroke-width=".8" fill="none"/></g>
<g><path d="M84.2 6.6L88.4 8V14.4L84.2 13.4Z" fill="#3aa2ff" stroke="#1268d0" stroke-width=".6"/><path d="M84.2 6.6L90.6 5.2L95.2 6.4L88.4 8Z" fill="#1e7ce4" stroke="#1268d0" stroke-width=".6"/><path d="M88.4 8L95.2 6.4V13.6L88.4 14.4Z" fill="#e8f3fd" stroke="#1a74dc" stroke-width=".7"/><path d="M89.8 10.2L94 9.4" stroke="#2a84e8" stroke-width="1.2"/><path d="M89.8 12.2L94 11.6" stroke="#8abcf0" stroke-width=".8"/><path d="M85 20.4C82.4 20.4 81.8 17.4 84.2 16.4C84 14.3 86.6 13.4 88 14.7C89.2 12.9 92.6 13 93.4 15.1C95.6 14.5 97.3 16 96.7 17.6C98.5 18.1 98.1 20.4 96 20.4Z" fill="url(#cld)" stroke="#5876ae" stroke-width=".9"/></g>
<g fill="none"><circle cx="118" cy="12.9" r="7.5" stroke="#8cb2e6" stroke-width="1.1"/><circle cx="118" cy="12.9" r="5" stroke="#4e86dc" stroke-width="1.2"/><circle cx="118" cy="12.9" r="2.9" stroke="#86aee6" stroke-width=".9"/><path d="M118.2 13V21A8 8 0 0 0 125.8 10.6Z" fill="url(#wdg)"/><path d="M112 17.6A7.5 7.5 0 0 0 114.6 19.6M113.6 15.4A5 5 0 0 0 115 16.9" stroke="#f0f0f0" stroke-width="1.6" opacity=".7"/><circle cx="118" cy="12.6" r="1.7" fill="#2a62d0"/><path d="M118.6 13.2V20.8" stroke="#1fa01f" stroke-width="1.5"/></g>
<g><path d="M138.2 11.4H152L145.4 21Z" fill="url(#yel)" stroke="#c09018" stroke-width=".8"/><path d="M137.4 10.4C138.6 8 151.4 8 152.6 10.4C151.6 13 138.4 13 137.4 10.4Z" fill="#4690d0" stroke="#2a6eae" stroke-width=".7"/><path d="M140.8 9.8C140.6 3.6 149.4 3.6 149.4 9.8Q145 11.4 140.8 9.8Z" fill="#78bcec" stroke="#3a84c4" stroke-width=".6"/><circle cx="149.6" cy="16.6" r="4" fill="#e02a12"/><rect x="148.1" y="15.1" width="3" height="3" fill="#fff"/></g>
<text transform="translate(158.4,16) scale(1.02,1)" font-size="12" fill="#000" stroke="#000" stroke-width="0.3" text-anchor="start">自动交易</text>
<rect x="213" y="0" width="1" height="25" fill="#9a9a9a" shape-rendering="crispEdges"/>
<rect x="214" y="0" width="1" height="25" fill="#fafafa" shape-rendering="crispEdges"/>
<rect x="217" y="3" width="3" height="1" fill="#a8a8a8" shape-rendering="crispEdges"/>
<rect x="217" y="5" width="3" height="1" fill="#a8a8a8" shape-rendering="crispEdges"/>
<rect x="217" y="7" width="3" height="1" fill="#a8a8a8" shape-rendering="crispEdges"/>
<rect x="217" y="9" width="3" height="1" fill="#a8a8a8" shape-rendering="crispEdges"/>
<rect x="217" y="11" width="3" height="1" fill="#a8a8a8" shape-rendering="crispEdges"/>
<rect x="217" y="13" width="3" height="1" fill="#a8a8a8" shape-rendering="crispEdges"/>
<rect x="217" y="15" width="3" height="1" fill="#a8a8a8" shape-rendering="crispEdges"/>
<rect x="217" y="17" width="3" height="1" fill="#a8a8a8" shape-rendering="crispEdges"/>
<rect x="217" y="19" width="3" height="1" fill="#a8a8a8" shape-rendering="crispEdges"/>
<rect x="217" y="21" width="3" height="1" fill="#a8a8a8" shape-rendering="crispEdges"/>
<g fill="#505050"><path d="M231.4 20.6V8.4M229 18.4H241.4" stroke="#505050" stroke-width="1.25" fill="none"/><path d="M229.7 9.6L231.4 6.9L233.1 9.6Z"/><path d="M240.2 16.7L242.8 18.4L240.2 20.1Z"/></g>
<path d="M237.5 8.2V16.6M237.5 9.4H240.2M235 15.4H237.5" stroke="#14881c" stroke-width="1.4" fill="none"/>
<rect x="251" y="1" width="25" height="22" fill="url(#chk)" shape-rendering="crispEdges"/>
<path d="M251.5 23V1.5H276" fill="none" stroke="#a0a0a0" stroke-width="1" shape-rendering="crispEdges"/>
<path d="M251.5 22.5H275.5V2" fill="none" stroke="#ffffff" stroke-width="1" shape-rendering="crispEdges"/>
<g fill="#505050"><path d="M259.3 20.6V8.4M256.9 18.4H269.3" stroke="#505050" stroke-width="1.25" fill="none"/><path d="M257.6 9.6L259.3 6.9L261.0 9.6Z"/><path d="M268.1 16.7L270.7 18.4L268.1 20.1Z"/></g>
<path d="M265.5 5.3V16.8" stroke="#128a1e" stroke-width="1.3"/><rect x="263.2" y="7.4" width="4.7" height="7.5" rx=".8" fill="url(#cnd)" stroke="#128a1e" stroke-width=".9"/>
<g fill="#505050"><path d="M287.4 20.6V8.4M285 18.4H297.4" stroke="#505050" stroke-width="1.25" fill="none"/><path d="M285.7 9.6L287.4 6.9L289.1 9.6Z"/><path d="M296.2 16.7L298.8 18.4L296.2 20.1Z"/></g>
<path d="M286 15.7C288.5 14.2 290.5 10.2 292.4 10.3C294.3 10.4 295.6 13.2 297.8 14" stroke="#2a9a32" stroke-width="1.4" fill="none"/>
<rect x="308" y="2" width="1" height="21" fill="#9a9a9a" shape-rendering="crispEdges"/>
<rect x="309" y="2" width="1" height="21" fill="#fafafa" shape-rendering="crispEdges"/>
<g><path d="M326.7 15L331.5 19" stroke="#a67c12" stroke-width="3.4" stroke-linecap="round"/><path d="M326.7 15L331.5 19" stroke="#e2bc2c" stroke-width="2" stroke-linecap="round"/><path d="M327.29999999999995 14.9L331.5 18.4" stroke="#f8e88a" stroke-width=".8"/><circle cx="322.9" cy="10.9" r="5.4" fill="#d4ecfb" stroke="#2c7cd0" stroke-width="1.3"/><path d="M319.7 10.9H326.09999999999997M322.9 7.7V14.1" stroke="#2c7cae" stroke-width="1.9"/></g>
<g><path d="M354.8 15L359.6 19" stroke="#a67c12" stroke-width="3.4" stroke-linecap="round"/><path d="M354.8 15L359.6 19" stroke="#e2bc2c" stroke-width="2" stroke-linecap="round"/><path d="M355.4 14.9L359.6 18.4" stroke="#f8e88a" stroke-width=".8"/><circle cx="351" cy="10.9" r="5.4" fill="#d4ecfb" stroke="#2c7cd0" stroke-width="1.3"/><path d="M347.8 10.9H354.2" stroke="#2c7cae" stroke-width="1.9"/></g>
<g shape-rendering="crispEdges">
<rect x="373" y="5" width="8" height="8" fill="#3c9c1c"/>
<rect x="374" y="6" width="1" height="1" fill="#dfe8f8"/>
<rect x="374" y="8" width="6" height="4" fill="#ffffff"/>
<rect x="375" y="9" width="4" height="1" fill="#6cc04c"/>
<rect x="375" y="11" width="4" height="1" fill="#3c9c1c"/>
<rect x="381" y="5" width="8" height="8" fill="#1c50d0"/>
<rect x="382" y="6" width="1" height="1" fill="#dfe8f8"/>
<rect x="382" y="8" width="6" height="4" fill="#ffffff"/>
<rect x="383" y="9" width="4" height="1" fill="#4c80ea"/>
<rect x="383" y="11" width="4" height="1" fill="#1c50d0"/>
<rect x="373" y="13" width="8" height="8" fill="#1c50d0"/>
<rect x="374" y="14" width="1" height="1" fill="#dfe8f8"/>
<rect x="374" y="16" width="6" height="4" fill="#ffffff"/>
<rect x="375" y="17" width="4" height="1" fill="#4c80ea"/>
<rect x="375" y="19" width="4" height="1" fill="#1c50d0"/>
<rect x="381" y="13" width="8" height="8" fill="#3c9c1c"/>
<rect x="382" y="14" width="1" height="1" fill="#dfe8f8"/>
<rect x="382" y="16" width="6" height="4" fill="#ffffff"/>
<rect x="383" y="17" width="4" height="1" fill="#6cc04c"/>
<rect x="383" y="19" width="4" height="1" fill="#3c9c1c"/>
</g>
<rect x="398" y="2" width="1" height="21" fill="#9a9a9a" shape-rendering="crispEdges"/>
<rect x="399" y="2" width="1" height="21" fill="#fafafa" shape-rendering="crispEdges"/>
<rect x="403" y="1" width="25" height="22" fill="url(#chk)" shape-rendering="crispEdges"/>
<path d="M403.5 23V1.5H428" fill="none" stroke="#a0a0a0" stroke-width="1" shape-rendering="crispEdges"/>
<path d="M403.5 22.5H427.5V2" fill="none" stroke="#ffffff" stroke-width="1" shape-rendering="crispEdges"/>
<g fill="#505050"><path d="M411.4 20.6V8.4M409 18.4H421.4" stroke="#505050" stroke-width="1.25" fill="none"/><path d="M409.7 9.6L411.4 6.9L413.1 9.6Z"/><path d="M420.2 16.7L422.8 18.4L420.2 20.1Z"/></g>
<path d="M416.3 9.2L419.8 12.5L416.3 15.6Z" fill="#8ae88a" stroke="#0f9a1a" stroke-width="1.1"/>
<rect x="431" y="1" width="25" height="22" fill="url(#chk)" shape-rendering="crispEdges"/>
<path d="M431.5 23V1.5H456" fill="none" stroke="#a0a0a0" stroke-width="1" shape-rendering="crispEdges"/>
<path d="M431.5 22.5H455.5V2" fill="none" stroke="#ffffff" stroke-width="1" shape-rendering="crispEdges"/>
<g fill="#505050"><path d="M439.4 20.6V8.4M437 18.4H449.4" stroke="#505050" stroke-width="1.25" fill="none"/><path d="M437.7 9.6L439.4 6.9L441.1 9.6Z"/><path d="M448.2 16.7L450.8 18.4L448.2 20.1Z"/></g>
<path d="M445.5 7.2V16.8" stroke="#1a6aae" stroke-width="1.4"/><path d="M451 12.5H447M449.4 10.6L446.8 12.5L449.4 14.4" stroke="#e0480e" stroke-width="1.3" fill="none"/>
<rect x="460" y="2" width="1" height="21" fill="#9a9a9a" shape-rendering="crispEdges"/>
<rect x="461" y="2" width="1" height="21" fill="#fafafa" shape-rendering="crispEdges"/>
<g><path d="M471.6 5.8H478L481 8.8V17.4Q481 18.4 480 18.4H471.6Q470.4 18.4 470.4 17.4V7Q470.4 5.8 471.6 5.8Z" fill="#f6f6f6" stroke="#868686" stroke-width="1"/><path d="M478 5.8V8.8H481" fill="#fff" stroke="#9a9a9a" stroke-width=".8"/><path d="M474.8 8.4C473 8.2 473.2 10 473.2 15M472.2 11.4H474.6" fill="none" stroke="#5a4a2a" stroke-width=".9"/><path d="M479.9 11.4V22.8M474.1 17H485.7" stroke="#0c8c10" stroke-width="4.2"/><path d="M479.9 12.3V21.9M475 17H484.8" stroke="#2cd42c" stroke-width="2.4"/><path d="M479.3 12.6V16.4H475.4" stroke="#9af89a" stroke-width=".8" fill="none"/></g>
<polygon points="491.6,12 497.6,12 494.6,15.4" fill="#000"/>
<g><circle cx="516.1" cy="12.8" r="7" fill="#eef3f9" stroke="url(#clk)" stroke-width="2.3"/><circle cx="516.1" cy="12.8" r="8" fill="none" stroke="#0c4aa4" stroke-width=".6"/><path d="M511.6 9.6A5.6 5.6 0 0 1 519 8" stroke="#7ab4f4" stroke-width="1" fill="none"/><path d="M516 8.6V13.2H519.6" stroke="#303030" stroke-width="1.3" fill="none"/><circle cx="516.1" cy="17.4" r=".6" fill="#5a8ad0"/><circle cx="511.6" cy="12.8" r=".5" fill="#888"/><circle cx="520.6" cy="12.8" r=".5" fill="#888"/></g>
<polygon points="530.6,12 536.6,12 533.6,15.4" fill="#000"/>
<g><rect x="547.5" y="6.4" width="15.2" height="13.4" rx=".8" fill="#f8fbff" stroke="#2a68c4" stroke-width="1.2"/><rect x="547.5" y="18.6" width="15.2" height="1.4" fill="#2a68c4"/><rect x="547.4" y="6.3" width="15.4" height="2.6" fill="url(#tb)"/><rect x="548" y="13.4" width="14.2" height="1" fill="#2a68c4"/><path d="M549.6 12.2L551.4 12.2L553.2 10.8L555 10.4L556.6 11.4L558.6 11.2L560.6 10.2" stroke="#a82814" stroke-width="1.2" fill="none"/><path d="M549.8 17.8L551.6 16.6L553.6 17.2L555.4 17L557.6 15.4L559.2 16L560.8 17.6" stroke="#168a26" stroke-width="1.2" fill="none"/></g>
<polygon points="569.8,12 575.8,12 572.8,15.4" fill="#000"/>
<rect x="581" y="0" width="1" height="25" fill="#9a9a9a" shape-rendering="crispEdges"/>
<rect x="582" y="0" width="1" height="25" fill="#fafafa" shape-rendering="crispEdges"/>
<rect x="585" y="3" width="3" height="1" fill="#a8a8a8" shape-rendering="crispEdges"/>
<rect x="585" y="5" width="3" height="1" fill="#a8a8a8" shape-rendering="crispEdges"/>
<rect x="585" y="7" width="3" height="1" fill="#a8a8a8" shape-rendering="crispEdges"/>
<rect x="585" y="9" width="3" height="1" fill="#a8a8a8" shape-rendering="crispEdges"/>
<rect x="585" y="11" width="3" height="1" fill="#a8a8a8" shape-rendering="crispEdges"/>
<rect x="585" y="13" width="3" height="1" fill="#a8a8a8" shape-rendering="crispEdges"/>
<rect x="585" y="15" width="3" height="1" fill="#a8a8a8" shape-rendering="crispEdges"/>
<rect x="585" y="17" width="3" height="1" fill="#a8a8a8" shape-rendering="crispEdges"/>
<rect x="585" y="19" width="3" height="1" fill="#a8a8a8" shape-rendering="crispEdges"/>
<rect x="585" y="21" width="3" height="1" fill="#a8a8a8" shape-rendering="crispEdges"/>
<rect x="591" y="1" width="25" height="22" fill="url(#chk)" shape-rendering="crispEdges"/>
<path d="M591.5 23V1.5H616" fill="none" stroke="#a0a0a0" stroke-width="1" shape-rendering="crispEdges"/>
<path d="M591.5 22.5H615.5V2" fill="none" stroke="#ffffff" stroke-width="1" shape-rendering="crispEdges"/>
<path d="M599.1 5.9V17L601.7 14.6L604.2 20.3L606 19.5L603.6 13.9L607.1 13.5Z" fill="#484848"/>
<path d="M631.6 6V12.6M631.6 14.4V21M624 13.4H630.6M632.6 13.4H639.2" stroke="#484848" stroke-width="1.3" fill="none"/>
<rect x="648" y="2" width="1" height="21" fill="#9a9a9a" shape-rendering="crispEdges"/>
<rect x="649" y="2" width="1" height="21" fill="#fafafa" shape-rendering="crispEdges"/>
<g stroke="#484848" fill="none"><path d="M665.5 6.9V20" stroke-width="1.3"/><path d="M688 13.4H700" stroke-width="1.3"/><path d="M715.9 20L728 7.8" stroke-width="1.1"/></g>
<g stroke="#484848" fill="none"><path d="M741.8 14.4L749.7 7.1M747.3 19.5L756 11.2" stroke-width=".8" stroke-dasharray="1,.6" opacity=".85"/><path d="M742.6 18.4L744.4 17.2M744.4 12.4V19.6L747.4 11.4L747.7 16.4L750.3 9.4L750.9 15.6L753.5 5.4L754.2 12.2L755.6 11" stroke-width="1.05" stroke-linejoin="round"/></g>
<text transform="translate(752.6,21.8) scale(1,1)" font-size="6.4" fill="#222" stroke="#222" stroke-width="0.2" text-anchor="start" font-weight="bold">E</text>
<g stroke="#484848" stroke-width="1" stroke-dasharray="1,1" shape-rendering="crispEdges"><path d="M771 6.5H785M771 9.5H785M771 13.5H785M771 17.5H780"/></g>
<text transform="translate(780.8,21.8) scale(1,1)" font-size="6.4" fill="#222" stroke="#222" stroke-width="0.2" text-anchor="start" font-weight="bold">F</text>
<text transform="translate(801.6,17.8) scale(0.88,1)" font-size="12.2" fill="#484848" stroke="#484848" stroke-width="0.5" text-anchor="start">A</text>
<rect x="828.5" y="7.5" width="11" height="12" fill="none" stroke="#484848" stroke-width="1" stroke-dasharray="1,1" shape-rendering="crispEdges"/>
<text transform="translate(834.1,17.8) scale(1.16,1)" font-size="10.8" fill="#484848" stroke="#484848" stroke-width="0.6" text-anchor="middle">T</text>
<g fill="#484848"><path d="M855.2 10.2L858.5 6.8L861.8 10.2L860.6 11.6H856.4Z"/><path d="M856.6 14.2L857.6 13.3L859.4 15.2L863.4 10.8L864.5 11.8L859.4 17.3Z"/><path d="M862 16.2H869L865.5 20Z"/><path d="M863 16.2L865.5 13.9L868 16.2Z"/></g>
<polygon points="875.6,12 881.6,12 878.6,15.4" fill="#000"/>
<rect x="887" y="0" width="1" height="25" fill="#9a9a9a" shape-rendering="crispEdges"/>
<rect x="888" y="0" width="1" height="25" fill="#fafafa" shape-rendering="crispEdges"/>
<rect x="891" y="3" width="3" height="1" fill="#a8a8a8" shape-rendering="crispEdges"/>
<rect x="891" y="5" width="3" height="1" fill="#a8a8a8" shape-rendering="crispEdges"/>
<rect x="891" y="7" width="3" height="1" fill="#a8a8a8" shape-rendering="crispEdges"/>
<rect x="891" y="9" width="3" height="1" fill="#a8a8a8" shape-rendering="crispEdges"/>
<rect x="891" y="11" width="3" height="1" fill="#a8a8a8" shape-rendering="crispEdges"/>
<rect x="891" y="13" width="3" height="1" fill="#a8a8a8" shape-rendering="crispEdges"/>
<rect x="891" y="15" width="3" height="1" fill="#a8a8a8" shape-rendering="crispEdges"/>
<rect x="891" y="17" width="3" height="1" fill="#a8a8a8" shape-rendering="crispEdges"/>
<rect x="891" y="19" width="3" height="1" fill="#a8a8a8" shape-rendering="crispEdges"/>
<rect x="891" y="21" width="3" height="1" fill="#a8a8a8" shape-rendering="crispEdges"/>
<rect x="1037" y="1" width="25" height="22" fill="url(#chk)" shape-rendering="crispEdges"/>
<path d="M1037.5 23V1.5H1062" fill="none" stroke="#a0a0a0" stroke-width="1" shape-rendering="crispEdges"/>
<path d="M1037.5 22.5H1061.5V2" fill="none" stroke="#ffffff" stroke-width="1" shape-rendering="crispEdges"/>
<text transform="translate(908.8,17) scale(0.92,1)" font-size="10.4" fill="#383838" stroke="#383838" stroke-width="0.15" text-anchor="middle">M1</text>
<text transform="translate(936.8,17) scale(0.92,1)" font-size="10.4" fill="#383838" stroke="#383838" stroke-width="0.15" text-anchor="middle">M5</text>
<text transform="translate(965,17) scale(0.92,1)" font-size="10.4" fill="#383838" stroke="#383838" stroke-width="0.15" text-anchor="middle">M15</text>
<text transform="translate(993.2,17) scale(0.92,1)" font-size="10.4" fill="#383838" stroke="#383838" stroke-width="0.15" text-anchor="middle">M30</text>
<text transform="translate(1021.5,17) scale(0.92,1)" font-size="10.4" fill="#383838" stroke="#383838" stroke-width="0.15" text-anchor="middle">H1</text>
<text transform="translate(1048.8,17) scale(0.92,1)" font-size="10.4" fill="#383838" stroke="#383838" stroke-width="0.15" text-anchor="middle">H4</text>
<text transform="translate(1077.3,17) scale(0.92,1)" font-size="10.4" fill="#383838" stroke="#383838" stroke-width="0.15" text-anchor="middle">D1</text>
<text transform="translate(1106,17) scale(0.92,1)" font-size="10.4" fill="#383838" stroke="#383838" stroke-width="0.15" text-anchor="middle">W1</text>
<text transform="translate(1133,17) scale(0.92,1)" font-size="10.4" fill="#383838" stroke="#383838" stroke-width="0.15" text-anchor="middle">MN</text>
<rect x="1148" y="0" width="1" height="25" fill="#9a9a9a" shape-rendering="crispEdges"/>
<rect x="1149" y="0" width="1" height="25" fill="#fafafa" shape-rendering="crispEdges"/>
<g><path d="M1615.2 13.4L1611 17.6" stroke="#2f62c8" stroke-width="2.6" stroke-linecap="round"/><path d="M1614 13.6L1611.6 16" stroke="#9ab8f0" stroke-width=".7"/><circle cx="1618.5" cy="10.2" r="3.9" fill="#f4f4f4" stroke="#2f62c8" stroke-width="1.4"/></g>
<g><ellipse cx="1641" cy="15" rx="5.8" ry="4.6" fill="#f6f6f8" stroke="#bcbcc4" stroke-width="1"/><path d="M1638 18.5L1638.5 21.5L1641.5 19.3Z" fill="#f6f6f8" stroke="#bcbcc4" stroke-width="0.8"/><circle cx="1649.7" cy="10.4" r="8.1" fill="url(#bd)"/></g>
<text transform="translate(1649.6,15) scale(1,1)" font-size="12.5" fill="#fff" stroke="#fff" stroke-width="0.2" text-anchor="middle">1</text>
</svg></body></html>
